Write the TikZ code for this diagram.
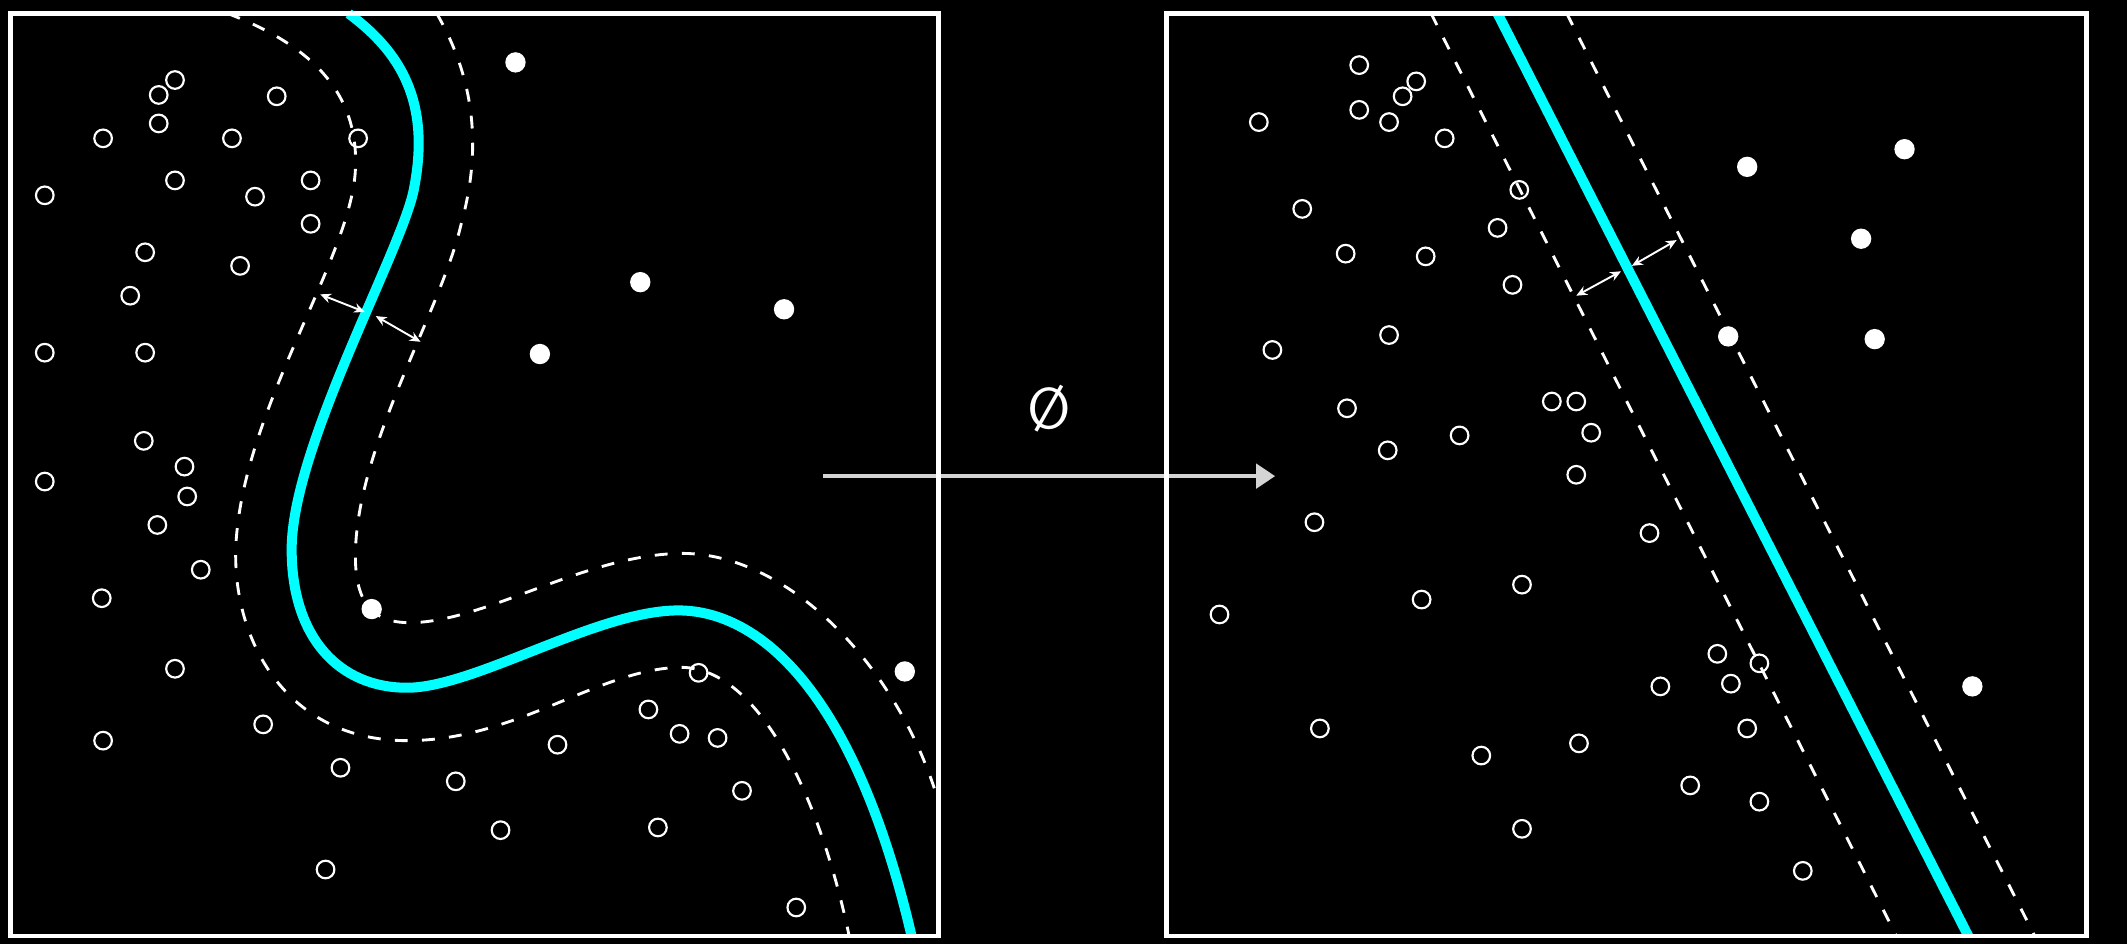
\documentclass[tikz,border=0pt]{standalone}
\usepackage{tikz}
\usetikzlibrary{arrows.meta,positioning}
\definecolor{sepcyan}{HTML}{00FFFF}
\definecolor{mapgray}{HTML}{D4D4D4}

\begin{document}
\begin{tikzpicture}[x=0.1mm,y=-0.1mm,
      panel/.style={draw=white,line width=1pt},
      negpt/.style={draw=white,line width=0.45pt},
      pospt/.style={fill=white},
      sep/.style={draw=sepcyan,line width=2.1pt},
      marg/.style={draw=white,line width=0.6pt,dash pattern=on 0.95mm off 1.05mm},
      gap/.style={{Stealth[length=0.8mm,width=0.7mm]}-{Stealth[length=0.8mm,width=0.7mm]},white,line width=0.4pt},
      map/.style={-{Triangle[length=1.4mm,width=1.8mm]},mapgray,line width=0.75pt}
    ]
    \fill[black] (0,0) rectangle (1568,696);

    % input space
    \draw[sep] (257,10) .. controls (295,38) and (318,75) .. (305,140)
      .. controls (296,185) and (215,330) .. (215,405)
      .. controls (215,470) and (250,507) .. (300,507)
      .. controls (350,507) and (440,450) .. (500,450)
      .. controls (560,450) and (630,510) .. (672,690);
    \draw[marg] (322,10) .. controls (345,50) and (358,100) .. (340,165)
      .. controls (325,230) and (262,330) .. (262,410)
      .. controls (262,445) and (275,460) .. (305,459)
      .. controls (360,457) and (430,410) .. (500,408)
      .. controls (580,406) and (660,490) .. (690,585);
    \draw[marg] (168,10) .. controls (225,32) and (265,65) .. (262,125)
      .. controls (259,190) and (180,300) .. (174,400)
      .. controls (170,470) and (210,546) .. (300,546)
      .. controls (380,546) and (440,494) .. (500,492)
      .. controls (560,490) and (605,590) .. (626,690);
    \foreach \x/\y in {129/59,117/70,204/71,76/102,117/91,171/102,264/102,33/144,129/133,188/145,229/133,229/165,107/186,177/196,96/218,33/260,107/260,106/325,136/344,33/355,138/366,116/387,148/420,75/441,129/493,194/534,76/546,251/566,336/576,411/549,369/612,240/641,478/523,515/496,501/541,529/544,547/583,485/610,587/669}
      \draw[negpt] (\x,\y) circle[radius=0.65mm];
    \foreach \x/\y in {380/46,472/208,578/228,398/261,274/449,667/495}
      \fill[pospt] (\x,\y) circle[radius=0.75mm];
    \coordinate (lgapA) at (236,217);
    \coordinate (lgapB) at (269,230);
    \coordinate (lgapC) at (277,233);
    \coordinate (lgapD) at (310,252);
    \draw[gap] (lgapA) -- (lgapB);
    \draw[gap] (lgapC) -- (lgapD);

    % feature space
    \coordinate (rsepT) at (1104,10);
    \coordinate (rsepB) at (1451,690);
    \coordinate (rlowT) at (1055,10);
    \coordinate (rlowB) at (1398,690);
    \coordinate (rupT) at (1155,10);
    \coordinate (rupB) at (1500,690);
    \draw[sep] (rsepT) -- (rsepB);
    \draw[marg] (rlowT) -- (rlowB);
    \draw[marg] (rupT) -- (rupB);
    \foreach \x/\y in {1002/48,1044/60,1034/71,1002/81,928/90,1024/90,1065/102,1120/140,960/154,1104/168,992/187,1051/189,1115/210,1024/247,938/258,993/301,1144/296,1162/296,1173/319,1076/321,1023/332,1162/350,969/385,1216/393,1122/431,1048/442,899/453,1266/482,1297/489,1224/506,1276/504,973/537,1288/537,1164/548,1092/557,1246/579,1297/591,1122/611,1329/642}
      \draw[negpt] (\x,\y) circle[radius=0.65mm];
    \foreach \x/\y in {1288/123,1404/110,1372/176,1274/248,1382/250,1454/506}
      \fill[pospt] (\x,\y) circle[radius=0.75mm];
    \coordinate (rgapA) at (1162,218);
    \coordinate (rgapB) at (1195,200);
    \coordinate (rgapC) at (1203,196);
    \coordinate (rgapD) at (1236,177);
    \draw[gap] (rgapA) -- (rgapB);
    \draw[gap] (rgapC) -- (rgapD);

    \coordinate (phiL) at (607,351);
    \coordinate (phiR) at (940,351);
    \draw[map] (phiL) -- node[above=3.1mm,inner sep=0pt,text=white,font=\fontsize{12}{14}\selectfont\sffamily] (phi) {\O} (phiR);

    \draw[panel] (8,10) rectangle (692,690);
    \draw[panel] (860,10) rectangle (1538,690);
  \end{tikzpicture}
\end{document}
